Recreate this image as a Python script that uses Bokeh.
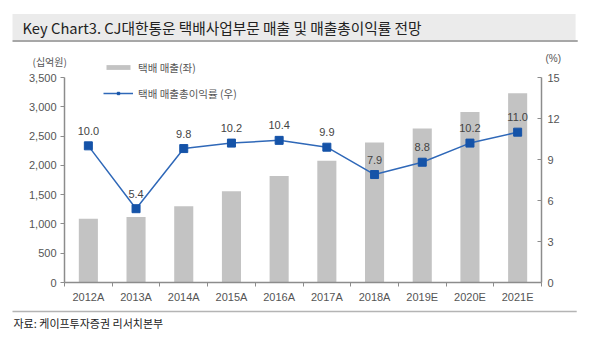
from bokeh.plotting import figure
from bokeh.models import (Range1d, LinearAxis, FixedTicker, NumeralTickFormatter,
                          Label, Legend, LegendItem, ColumnDataSource)
from bokeh.core.properties import value
from bokeh.embed import file_html
from bokeh.resources import INLINE

years = ["2012A", "2013A", "2014A", "2015A", "2016A", "2017A", "2018A", "2019E", "2020E", "2021E"]
revenue = [1090, 1120, 1300, 1560, 1820, 2080, 2390, 2630, 2910, 3230]
margin = [10.0, 5.4, 9.8, 10.2, 10.4, 9.9, 7.9, 8.8, 10.2, 11.0]
margin_labels = ["10.0", "5.4", "9.8", "10.2", "10.4", "9.9", "7.9", "8.8", "10.2", "11.0"]
left_ticks = [0, 500, 1000, 1500, 2000, 2500, 3000, 3500]
right_ticks = [0, 3, 6, 9, 12, 15]
left_max, right_max = 3500, 15

W, H = 612, 353
FL, FR, FT, FB = 64, 541, 52, 282   # frame edges (canvas px)
AXTOP = 77                          # canvas y of axis maxima
ext = (FB - FT) / (FB - AXTOP)

xc = [i + 0.5 for i in range(len(years))]
src = ColumnDataSource(dict(x=xc, rev=revenue, m=margin, ml=margin_labels))

p = figure(width=W, height=H, output_backend="svg", toolbar_location=None,
           title_location=None,
           x_range=Range1d(0, len(years)), y_range=Range1d(0, left_max * ext),
           min_border_left=FL, min_border_right=W - FR, min_border_top=FT,
           min_border_bottom=H - FB)
p.extra_y_ranges = {"pct": Range1d(0, right_max * ext)}
p.xgrid.visible = False
p.ygrid.visible = False
p.outline_line_color = None
p.background_fill_color = "white"
p.border_fill_color = "white"

axis_col = "#8c8c8c"
lab_col = "#555555"
font = "Liberation Sans"
kfont = "Noto Sans CJK KR"

# x axis
xa = p.xaxis[0]
xa.ticker = FixedTicker(ticks=xc, minor_ticks=list(range(len(years) + 1)))
xa.major_label_overrides = {x: y for x, y in zip(xc, years)}
xa.major_tick_line_color = None
xa.major_tick_in = 0
xa.major_tick_out = 4
xa.minor_tick_in = 0
xa.minor_tick_out = 4
xa.minor_tick_line_color = axis_col
xa.axis_line_color = axis_col
xa.axis_line_width = 1.5
xa.major_label_text_font = font
xa.major_label_text_font_size = "11px"
xa.major_label_text_color = lab_col
xa.major_label_standoff = 4

# left axis
ya = p.yaxis[0]
ya.ticker = FixedTicker(ticks=left_ticks)
ya.bounds = (0, left_max)
ya.formatter = NumeralTickFormatter(format="0,0")
ya.minor_tick_line_color = None
ya.major_tick_in = 0
ya.major_tick_out = 4
ya.major_tick_line_color = axis_col
ya.axis_line_color = axis_col
ya.axis_line_width = 1.5
ya.major_label_text_font = font
ya.major_label_text_font_size = "11px"
ya.major_label_text_color = lab_col
ya.major_label_standoff = 4

# right axis
ra = LinearAxis(y_range_name="pct", ticker=FixedTicker(ticks=right_ticks), bounds=(0, right_max))
ra.minor_tick_line_color = None
ra.major_tick_in = 4
ra.major_tick_out = 0
ra.major_tick_line_color = axis_col
ra.axis_line_color = axis_col
ra.axis_line_width = 1.5
ra.major_label_text_font = font
ra.major_label_text_font_size = "11px"
ra.major_label_text_color = lab_col
ra.major_label_standoff = 6
p.add_layout(ra, "right")

bars = p.vbar(x="x", top="rev", width=0.4, source=src, fill_color="#c3c3c3", line_color=None)
ln = p.line(x="x", y="m", source=src, y_range_name="pct", line_color="#2f68b8", line_width=1.5)
mk = p.scatter(x="x", y="m", source=src, y_range_name="pct", marker="square", size=8,
               fill_color="#1553a8", line_color="#1553a8")
p.text(x="x", y="m", text="ml", source=src, y_range_name="pct", y_offset=-11,
       text_align="center", text_baseline="bottom", text_font=value(font),
       text_font_size="11px", text_color="#444444")

leg_kw = dict(orientation="vertical", background_fill_alpha=0, border_line_color=None,
              glyph_width=30, glyph_height=6, label_height=20, spacing=0, padding=0,
              margin=0, label_standoff=5, label_text_font=kfont,
              label_text_font_size="10.5px", label_text_color="#555555")
p.add_layout(Legend(items=[LegendItem(label="택배 매출(좌)", renderers=[bars])],
                    location=(103 - FL, FB - 67 - 10), **leg_kw), "center")
p.add_layout(Legend(items=[LegendItem(label="택배 매출총이익률 (우)", renderers=[ln, mk])],
                    location=(103 - FL, FB - 93 - 10), **leg_kw), "center")

# ---- texts in side panels (not clipped) ----
# above[0]: rule under the title band
p.add_layout(Label(x=12 - FL, y=11.5, x_units="screen", y_units="screen", text=" ",
                   text_font=kfont, text_font_size="1px", text_baseline="middle",
                   background_fill_color="#8a8a8a",
                   padding=dict(left=0, right=565, top=0, bottom=0)), "above")
# above[1]: title with grey band
p.add_layout(Label(x=12 - FL, y=24.5, x_units="screen", y_units="screen",
                   text="Key Chart3. CJ대한통운 택배사업부문 매출 및 매출총이익률 전망",
                   text_font=kfont, text_font_size="14.7px", text_color="#222222",
                   text_baseline="middle", background_fill_color="#ebebeb",
                   padding=dict(left=10, right=154, top=3, bottom=2)), "above")
# below: footer rule, footer text, left unit
p.add_layout(Label(x=12 - FL, y=-5, x_units="screen", y_units="screen", text=" ",
                   text_font=kfont, text_font_size="1px", text_baseline="middle",
                   background_fill_color="#b4b4b4",
                   padding=dict(left=0, right=564, top=0, bottom=0)), "below")
p.add_layout(Label(x=13 - FL, y=-0.5, x_units="screen", y_units="screen",
                   text="자료: 케이프투자증권 리서치본부",
                   text_font=kfont, text_font_size="11px", text_color="#222222",
                   text_baseline="middle"), "below")
p.add_layout(Label(x=32 - FL, y=276, x_units="screen", y_units="screen", text="(십억원)",
                   text_font=kfont, text_font_size="10px", text_color=lab_col,
                   text_baseline="middle"), "below")
# right: unit of the right axis
p.add_layout(Label(x=-17, y=FB - 58, x_units="screen", y_units="screen", text="(%)",
                   text_font=font, text_font_size="10px", text_color=lab_col,
                   text_baseline="middle"), "right")

open("out.html", "w").write(file_html(p, INLINE))
